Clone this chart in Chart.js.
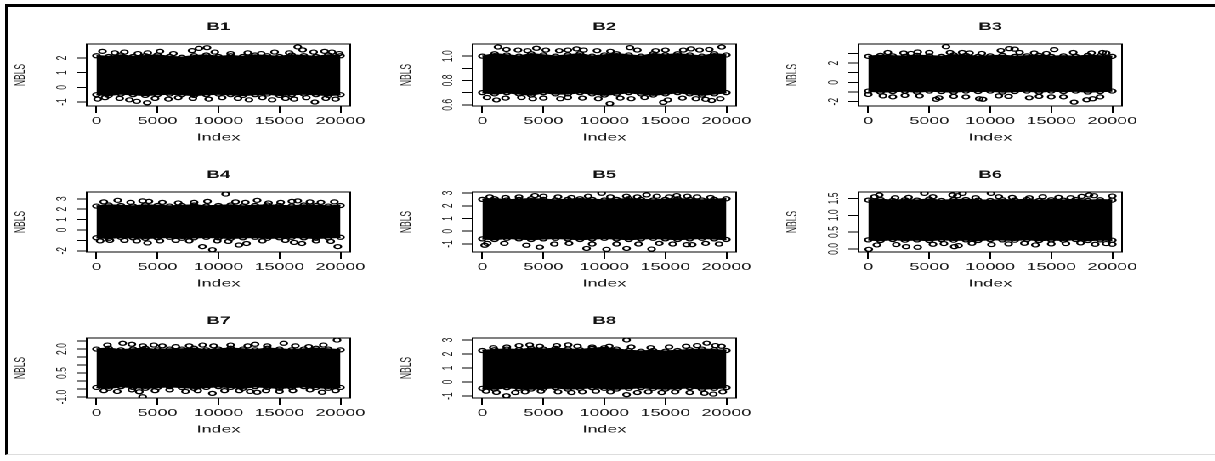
<!DOCTYPE html>
<html>
<head>
<meta charset="utf-8">
<script src="https://cdn.jsdelivr.net/npm/chart.js@4"></script>
<style>
body { margin: 0; background: #fff; width: 1215px; height: 461px; overflow: hidden; position: relative; }
#frame { position: absolute; left: 5px; top: 4px; width: 1215px; height: 447px; border-top: 3px solid #000; border-left: 3px solid #000; border-bottom: 1px solid #ddd; }
#plots { position: absolute; left: 0; top: 0; width: 715px; height: 461px; transform: scale(1.7, 1); transform-origin: 0 0; }
#plots canvas { position: absolute; }
</style>
</head>
<body>
<div id="frame"></div>
<div id="plots"></div>
<script>
// shared x data
const indexTicks = [0, 5000, 10000, 15000, 20000];
const envIndex = [0, 1000, 2000, 3000, 4000, 5000, 6000, 7000, 8000, 9000, 10000,
                  11000, 12000, 13000, 14000, 15000, 16000, 17000, 18000, 19000, 20000];

// B1
const b1Upper = [2.15, 2.10, 2.20, 2.10, 2.15, 2.20, 2.10, 2.05, 2.15, 2.20, 2.10, 2.15, 2.10, 2.20, 2.15, 2.10, 2.20, 2.15, 2.10, 2.20, 2.15];
const b1Lower = [-0.50, -0.55, -0.45, -0.50, -0.55, -0.50, -0.45, -0.50, -0.55, -0.50, -0.45, -0.50, -0.55, -0.50, -0.45, -0.55, -0.50, -0.45, -0.50, -0.55, -0.50];
const b1Outliers = [[490, 2.45], [1500, 2.35], [2290, 2.4], [3400, 2.3], [4200, 2.35], [5200, 2.45], [6300, 2.3], [7840, 2.5], [8400, 2.65], [9060, 2.7], [9700, 2.4], [11000, 2.3], [12400, 2.35], [13500, 2.3], [14600, 2.4], [15800, 2.35], [16500, 2.75], [16900, 2.55], [17800, 2.4], [18700, 2.45], [19300, 2.4], [19900, 2.3],
  [100, -0.8], [700, -0.7], [1900, -0.75], [2700, -0.85], [3300, -0.95], [4160, -1.05], [4800, -0.75], [5900, -0.8], [6700, -0.7], [7900, -0.75], [9200, -0.8], [10300, -0.7], [11600, -0.75], [12500, -0.85], [13600, -0.7], [14400, -0.85], [15500, -0.75], [16200, -0.8], [17200, -0.7], [17900, -1.0], [18800, -0.75], [19600, -0.8]];
const b1Ticks = [-1, 0, 1, 2];
const b1Labels = ['-1', '0', '1', '2'];

// B2
const b2Upper = [1.00, 1.02, 1.01, 1.00, 1.02, 1.01, 1.00, 1.01, 1.02, 1.00, 1.01, 1.02, 1.01, 1.00, 1.02, 1.01, 1.02, 1.01, 1.00, 1.02, 1.01];
const b2Lower = [0.70, 0.69, 0.70, 0.69, 0.68, 0.70, 0.69, 0.69, 0.70, 0.69, 0.68, 0.69, 0.70, 0.69, 0.68, 0.69, 0.70, 0.69, 0.68, 0.69, 0.70];
const b2Outliers = [[1280, 1.075], [1970, 1.055], [2920, 1.05], [3700, 1.045], [4430, 1.065], [5200, 1.05], [6300, 1.045], [7000, 1.05], [7720, 1.06], [8300, 1.05], [9400, 1.045], [10500, 1.04], [12090, 1.07], [12700, 1.05], [14200, 1.045], [15000, 1.05], [16470, 1.05], [17100, 1.06], [17800, 1.05], [18600, 1.055], [19610, 1.075],
  [380, 0.66], [1150, 0.64], [1900, 0.655], [3200, 0.66], [4130, 0.65], [5000, 0.655], [6400, 0.65], [7000, 0.66], [8200, 0.655], [9500, 0.65], [10450, 0.61], [11300, 0.655], [12200, 0.65], [13300, 0.66], [14830, 0.62], [15200, 0.64], [16400, 0.655], [17500, 0.65], [18300, 0.645], [18800, 0.635], [19500, 0.65]];
const b2Ticks = [0.6, 0.7, 0.8, 0.9, 1.0];
const b2Labels = ['0.6', '', '0.8', '', '1.0'];

// B3
const b3Upper = [2.7, 2.8, 2.75, 2.7, 2.8, 2.75, 2.7, 2.85, 2.8, 2.7, 2.75, 2.8, 2.7, 2.75, 2.8, 2.7, 2.75, 2.7, 2.8, 2.75, 2.7];
const b3Lower = [-0.9, -1.0, -0.95, -0.9, -1.0, -0.9, -0.95, -1.0, -0.9, -0.95, -0.9, -1.0, -0.95, -0.9, -1.0, -0.9, -0.95, -0.9, -1.0, -0.95, -0.9];
const b3Outliers = [[1600, 3.1], [2900, 3.05], [3500, 3.0], [4050, 3.15], [5000, 3.1], [6370, 3.7], [6700, 3.1], [7700, 3.1], [8300, 3.05], [9300, 3.0], [10870, 3.3], [11550, 3.5], [12000, 3.45], [12400, 3.1], [13600, 3.05], [14600, 3.0], [15240, 3.4], [16800, 3.1], [18300, 3.05], [19200, 3.1], [19500, 3.05],
  [0, -1.25], [1200, -1.4], [2010, -1.5], [3000, -1.35], [4200, -1.4], [5560, -1.75], [5800, -1.6], [7000, -1.45], [8000, -1.5], [9100, -1.7], [9400, -1.75], [10700, -1.4], [11500, -1.45], [13190, -1.6], [14000, -1.45], [15000, -1.5], [16000, -1.5], [16870, -2.05], [17900, -1.8], [18400, -1.7], [19000, -1.5]];
const b3Ticks = [-2, -1, 0, 1, 2, 3];
const b3Labels = ['-2', '', '0', '', '2', ''];

// B4
const b4Upper = [2.3, 2.4, 2.35, 2.3, 2.4, 2.35, 2.3, 2.35, 2.4, 2.3, 2.35, 2.4, 2.3, 2.35, 2.4, 2.35, 2.3, 2.4, 2.35, 2.3, 2.35];
const b4Lower = [-0.75, -0.8, -0.7, -0.75, -0.8, -0.75, -0.7, -0.8, -0.75, -0.7, -0.75, -0.8, -0.75, -0.7, -0.8, -0.75, -0.7, -0.75, -0.8, -0.75, -0.7];
const b4Outliers = [[600, 2.7], [1740, 2.85], [2800, 2.65], [3780, 2.8], [4300, 2.75], [5400, 2.65], [6700, 2.6], [8000, 2.65], [9100, 2.75], [10590, 3.45], [11400, 2.7], [12200, 2.65], [13170, 2.85], [14100, 2.6], [15100, 2.65], [16020, 2.75], [16500, 2.8], [17500, 2.7], [18400, 2.65], [19500, 2.7],
  [300, -1.05], [1100, -1.0], [2290, -1.0], [3300, -1.05], [4190, -1.25], [5200, -1.05], [6500, -1.0], [7600, -1.05], [8680, -1.6], [9500, -1.9], [9900, -1.05], [10800, -1.1], [11670, -1.45], [12300, -1.3], [13600, -1.05], [15480, -1.0], [16200, -1.2], [16840, -1.3], [18000, -1.05], [19200, -1.1], [19780, -1.6]];
const b4Ticks = [-2, -1, 0, 1, 2, 3];
const b4Labels = ['-2', '', '0', '1', '2', '3'];

// B5
const b5Upper = [2.5, 2.55, 2.45, 2.5, 2.55, 2.5, 2.45, 2.5, 2.55, 2.5, 2.45, 2.5, 2.55, 2.5, 2.45, 2.5, 2.55, 2.5, 2.45, 2.5, 2.55];
const b5Lower = [-0.6, -0.65, -0.55, -0.6, -0.65, -0.6, -0.55, -0.6, -0.65, -0.6, -0.55, -0.6, -0.65, -0.6, -0.55, -0.6, -0.65, -0.6, -0.55, -0.6, -0.65];
const b5Outliers = [[600, 2.7], [1900, 2.65], [3000, 2.7], [4300, 2.8], [5000, 2.75], [6200, 2.7], [7300, 2.65], [8670, 2.75], [9770, 2.98], [10500, 2.7], [11800, 2.75], [12700, 2.7], [13460, 2.85], [14300, 2.75], [15300, 2.7], [15930, 2.8], [16800, 2.75], [17600, 2.7], [18700, 2.65],
  [190, -1.1], [400, -0.95], [1800, -0.95], [3610, -1.1], [4700, -1.25], [5900, -1.0], [7100, -0.95], [8540, -1.35], [9000, -1.0], [10180, -1.42], [11000, -1.0], [11820, -1.35], [12800, -1.0], [13870, -1.4], [14500, -0.95], [15600, -1.0], [16750, -1.05], [17200, -1.05], [18300, -0.95], [19400, -1.0]];
const b5Ticks = [-1, 0, 1, 2, 3];
const b5Labels = ['-1', '0', '1', '2', '3'];

// B6
const b6Upper = [1.45, 1.47, 1.44, 1.46, 1.45, 1.48, 1.44, 1.46, 1.47, 1.45, 1.44, 1.46, 1.45, 1.47, 1.44, 1.46, 1.45, 1.47, 1.44, 1.46, 1.45];
const b6Lower = [0.27, 0.25, 0.28, 0.26, 0.27, 0.25, 0.28, 0.26, 0.27, 0.25, 0.28, 0.27, 0.26, 0.28, 0.25, 0.27, 0.26, 0.28, 0.25, 0.27, 0.26];
const b6Outliers = [[510, 1.55], [900, 1.6], [2200, 1.52], [3300, 1.53], [4600, 1.65], [5300, 1.55], [6910, 1.6], [7300, 1.58], [7730, 1.65], [8800, 1.52], [10060, 1.65], [10700, 1.55], [11800, 1.53], [13200, 1.52], [14300, 1.55], [15600, 1.53], [16600, 1.52], [17500, 1.56], [18100, 1.6], [18500, 1.58], [20000, 1.57],
  [40, -0.01], [700, 0.12], [2300, 0.13], [3100, 0.07], [4050, 0.05], [5300, 0.14], [6200, 0.16], [7050, 0.07], [7400, 0.1], [8500, 0.17], [10100, 0.13], [11500, 0.15], [12800, 0.17], [13700, 0.12], [15000, 0.15], [16200, 0.16], [17400, 0.18], [18600, 0.14], [19500, 0.16], [20000, 0.14]];
const b6Ticks = [0, 0.5, 1, 1.5];
const b6Labels = ['0.0', '0.5', '1.0', '1.5'];

// B7
const b7Upper = [2.0, 2.05, 1.95, 2.0, 2.05, 1.95, 2.0, 2.0, 2.05, 1.95, 2.0, 2.05, 2.0, 1.95, 2.05, 2.0, 1.95, 2.0, 2.05, 2.0, 1.95];
const b7Lower = [-0.4, -0.45, -0.35, -0.4, -0.45, -0.4, -0.35, -0.4, -0.45, -0.4, -0.35, -0.4, -0.45, -0.35, -0.4, -0.45, -0.4, -0.35, -0.4, -0.45, -0.4];
const b7Outliers = [[900, 2.25], [2150, 2.36], [2900, 2.3], [3800, 2.2], [4700, 2.25], [5400, 2.2], [6500, 2.15], [7600, 2.2], [8700, 2.25], [9600, 2.2], [11000, 2.25], [12400, 2.2], [13000, 2.3], [14000, 2.2], [15350, 2.36], [16300, 2.2], [17400, 2.15], [18600, 2.25], [19720, 2.56],
  [600, -0.6], [1700, -0.65], [2900, -0.55], [3510, -0.67], [3780, -0.98], [4800, -0.6], [6000, -0.55], [7300, -0.65], [8300, -0.6], [9500, -0.77], [10500, -0.6], [11700, -0.6], [12600, -0.65], [13170, -0.7], [13900, -0.6], [15000, -0.65], [16100, -0.6], [17500, -0.55], [18500, -0.7], [19600, -0.6]];
const b7Ticks = [-1, -0.5, 0, 0.5, 1, 1.5, 2, 2.5];
const b7Labels = ['-1.0', '', '', '0.5', '', '', '2.0', ''];

// B8
const b8Upper = [2.25, 2.3, 2.35, 2.3, 2.4, 2.35, 2.4, 2.35, 2.3, 2.4, 2.45, 2.35, 2.25, 2.2, 2.25, 2.2, 2.25, 2.3, 2.35, 2.3, 2.25];
const b8Lower = [-0.45, -0.5, -0.4, -0.45, -0.5, -0.45, -0.4, -0.5, -0.45, -0.4, -0.45, -0.5, -0.45, -0.4, -0.45, -0.5, -0.45, -0.4, -0.5, -0.45, -0.4];
const b8Outliers = [[900, 2.45], [2000, 2.5], [3000, 2.6], [3880, 2.65], [4700, 2.55], [6100, 2.6], [7030, 2.65], [7800, 2.55], [9000, 2.5], [10400, 2.55], [11820, 3.0], [12200, 2.5], [13800, 2.45], [15300, 2.5], [16700, 2.55], [17600, 2.6], [18390, 2.77], [19100, 2.6], [19600, 2.55],
  [300, -0.65], [1150, -0.74], [1970, -0.98], [2700, -0.75], [3500, -0.7], [4800, -0.65], [6200, -0.7], [7300, -0.75], [8200, -0.7], [9300, -0.65], [10500, -0.7], [11820, -0.9], [12700, -0.75], [13600, -0.7], [14700, -0.75], [15800, -0.7], [17000, -0.75], [18200, -0.8], [18930, -0.86], [19700, -0.7]];
const b8Ticks = [-1, 0, 1, 2, 3];
const b8Labels = ['-1', '0', '1', '2', '3'];

// y ranges [min, max] per panel
const yRanges = [[-1.27, 2.95], [0.59, 1.10], [-2.45, 3.98], [-2.12, 3.65], [-1.63, 3.08], [-0.09, 1.69], [-1.06, 2.69], [-1.14, 3.14]];

const panels = [
    { name: 'B1', upper: b1Upper, lower: b1Lower, pts: b1Outliers, ticks: b1Ticks, labels: b1Labels },
    { name: 'B2', upper: b2Upper, lower: b2Lower, pts: b2Outliers, ticks: b2Ticks, labels: b2Labels },
    { name: 'B3', upper: b3Upper, lower: b3Lower, pts: b3Outliers, ticks: b3Ticks, labels: b3Labels },
    { name: 'B4', upper: b4Upper, lower: b4Lower, pts: b4Outliers, ticks: b4Ticks, labels: b4Labels },
    { name: 'B5', upper: b5Upper, lower: b5Lower, pts: b5Outliers, ticks: b5Ticks, labels: b5Labels },
    { name: 'B6', upper: b6Upper, lower: b6Lower, pts: b6Outliers, ticks: b6Ticks, labels: b6Labels },
    { name: 'B7', upper: b7Upper, lower: b7Lower, pts: b7Outliers, ticks: b7Ticks, labels: b7Labels },
    { name: 'B8', upper: b8Upper, lower: b8Lower, pts: b8Outliers, ticks: b8Ticks, labels: b8Labels },
];

// layout (page px; x divided by SX because the container is stretched)
const SX = 1.7;
const colLeft = [87, 473, 859];
const BOX_W = 264;
const rowTop = [44, 192, 338];
const rowH = [62, 60, 60];
const Y_W = 51, X_H = 40, T_H = 44, PAD_R = 14;
const Y_TICK = 6, Y_LAB = 14.1;
const FONT = "'Liberation Sans', Arial, sans-serif";
const Y_FONT = 8.5;

Chart.defaults.font.family = FONT;
Chart.defaults.color = '#1a1a1a';

const measure = document.createElement('canvas').getContext('2d');
measure.font = `${Y_FONT}px ${FONT}`;

const boxPlugin = {
    id: 'box',
    afterDatasetsDraw(chart) {
        const { ctx, chartArea: a } = chart;
        ctx.save();
        ctx.strokeStyle = '#000';
        ctx.lineWidth = 1;
        ctx.strokeRect(a.left, a.top, a.right - a.left, a.bottom - a.top);
        ctx.restore();
    }
};

function buildPanel(p, i) {
    const col = i % 3, row = Math.floor(i / 3);
    const canvas = document.createElement('canvas');
    canvas.width = Math.round(Y_W + BOX_W / SX + PAD_R);
    canvas.height = T_H + rowH[row] + X_H;
    canvas.style.left = (colLeft[col] / SX - Y_W) + 'px';
    canvas.style.top = (rowTop[row] - T_H) + 'px';
    document.getElementById('plots').appendChild(canvas);

    const widest = Math.max(...p.labels.map(l => measure.measureText(l).width));
    const labelPad = Math.max(Y_LAB - Y_TICK - widest / 2, 0);

    // band edge: the envelope points are drawn as the same open circles
    const edge = data => ({
        type: 'line',
        data,
        borderColor: '#000',
        borderWidth: 1.5,
        pointStyle: 'circle',
        pointRadius: 2,
        pointBorderWidth: 1.2,
        pointBorderColor: '#000',
        pointBackgroundColor: 'rgba(0,0,0,0)',
        tension: 0
    });

    new Chart(canvas, {
        type: 'scatter',
        data: {
            datasets: [
                { ...edge(envIndex.map((x, k) => ({ x, y: p.upper[k] }))), fill: '+1', backgroundColor: '#000' },
                { ...edge(envIndex.map((x, k) => ({ x, y: p.lower[k] }))), fill: false },
                {
                    data: p.pts.map(([x, y]) => ({ x, y })),
                    pointStyle: 'circle',
                    pointRadius: 2,
                    borderWidth: 1.2,
                    borderColor: '#000',
                    backgroundColor: 'rgba(0,0,0,0)'
                }
            ]
        },
        options: {
            responsive: false,
            animation: false,
            devicePixelRatio: 2,
            layout: { padding: { left: 0, right: PAD_R, top: 0, bottom: 0 } },
            plugins: {
                legend: { display: false },
                tooltip: { enabled: false },
                title: {
                    display: true,
                    text: p.name,
                    fullSize: false,
                    color: '#111',
                    font: { size: 11, weight: 'bold', lineHeight: 1.2 },
                    padding: { top: 20.4, bottom: 10.4 }
                }
            },
            scales: {
                x: {
                    type: 'linear',
                    min: -800,
                    max: 20800,
                    afterBuildTicks: s => { s.ticks = indexTicks.map(v => ({ value: v })); },
                    afterFit: s => { s.height = X_H; },
                    grid: { drawOnChartArea: false, tickLength: 7, color: '#000' },
                    border: { color: '#000' },
                    ticks: { autoSkip: false, maxRotation: 0, padding: 2, font: { size: 10.5 }, callback: v => String(v) },
                    title: { display: true, text: 'Index', font: { size: 10.5, lineHeight: 1.2 }, padding: { top: 0, bottom: 2 } }
                },
                y: {
                    type: 'linear',
                    min: yRanges[i][0],
                    max: yRanges[i][1],
                    afterBuildTicks: s => { s.ticks = p.ticks.map(v => ({ value: v })); },
                    afterFit: s => { s.width = Y_W; },
                    grid: { drawOnChartArea: false, tickLength: Y_TICK, color: '#000' },
                    border: { color: '#000' },
                    ticks: {
                        autoSkip: false,
                        minRotation: 90,
                        maxRotation: 90,
                        crossAlign: 'center',
                        padding: labelPad,
                        font: { size: Y_FONT },
                        callback: (v, idx) => p.labels[idx]
                    },
                    title: { display: true, text: 'NBLS', font: { size: 8.5, lineHeight: 1.2 }, padding: { top: 7.1, bottom: 0 } }
                }
            }
        },
        plugins: [boxPlugin]
    });
}

panels.forEach(buildPanel);
</script>
</body>
</html>
